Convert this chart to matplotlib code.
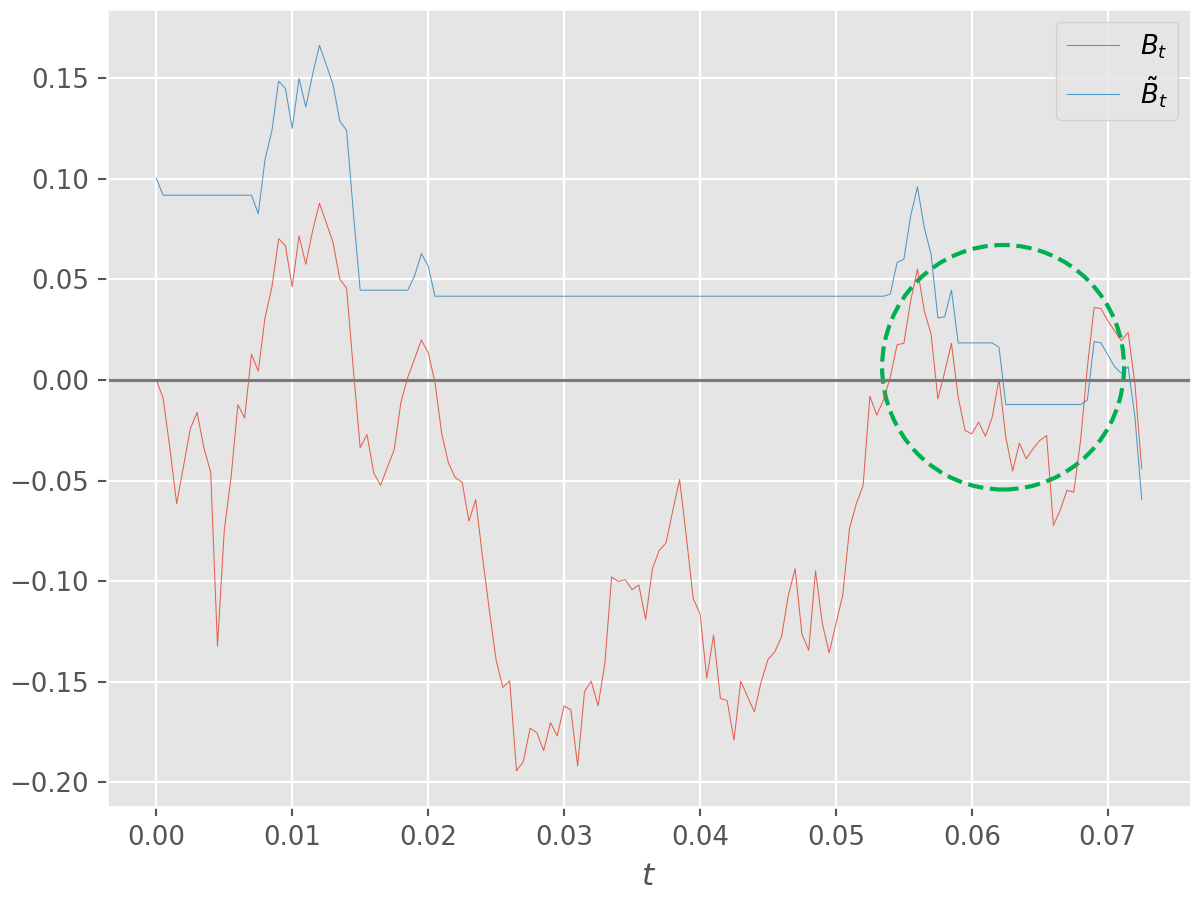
import numpy as np
import matplotlib
matplotlib.use('Agg')
import matplotlib.pyplot as plt
from matplotlib.patches import Ellipse

plt.style.use('ggplot')

# sample times: regular grid 0 .. 0.0725
t_end = 0.0725
n_pts = 146

# B_t (red)
b = [0.0, -0.0089, -0.034, -0.0615, -0.043, -0.0243, -0.0161, -0.0337, -0.0458, -0.1323,
     -0.0748, -0.0483, -0.0123, -0.0189, 0.0129, 0.0043, 0.031, 0.0459, 0.0702, 0.0666,
     0.0463, 0.0716, 0.0575, 0.0741, 0.0878, 0.0782, 0.0683, 0.0501, 0.0456, 0.005,
     -0.0337, -0.0271, -0.0463, -0.0524, -0.0434, -0.0347, -0.011, 0.0013, 0.0104, 0.0198,
     0.0137, -0.0012, -0.0268, -0.0414, -0.0486, -0.0508, -0.0701, -0.0595, -0.088, -0.1143,
     -0.1392, -0.1528, -0.1495, -0.1942, -0.1897, -0.1731, -0.1753, -0.1842, -0.1703, -0.1769,
     -0.162, -0.164, -0.1918, -0.155, -0.1497, -0.1619, -0.1409, -0.0979, -0.1002, -0.0992,
     -0.1042, -0.1019, -0.119, -0.0938, -0.0847, -0.081, -0.0649, -0.0495, -0.0781, -0.1086,
     -0.1161, -0.1483, -0.1268, -0.1582, -0.1594, -0.1789, -0.1497, -0.1574, -0.1649, -0.15,
     -0.1389, -0.1351, -0.1277, -0.107, -0.0938, -0.1263, -0.1343, -0.0949, -0.121, -0.1356,
     -0.1214, -0.107, -0.0739, -0.0615, -0.0525, -0.008, -0.0175, -0.01, 0.0013, 0.0175,
     0.0182, 0.0393, 0.0551, 0.0344, 0.0228, -0.0094, 0.0038, 0.0182, -0.0086, -0.0251,
     -0.0268, -0.021, -0.028, -0.0185, 0.0005, -0.0285, -0.0453, -0.0314, -0.0392, -0.0342,
     -0.0301, -0.0276, -0.0723, -0.0648, -0.0549, -0.0557, -0.0301, 0.0063, 0.036, 0.0355,
     0.0294, 0.0245, 0.0195, 0.0236, -0.002, -0.0441]

# tilde B_t (blue) (flat stretches written as repeats)
b_tilde = ([0.1002] + [0.0918] * 14 +
           [0.0826, 0.1096, 0.1237, 0.1485, 0.1448, 0.125, 0.1498, 0.1356, 0.1518, 0.1663,
            0.1567, 0.1468, 0.1286, 0.124, 0.083] +
           [0.0446] * 8 +
           [0.0517, 0.0628, 0.0567] +
           [0.0416] * 67 +
           [0.0427, 0.0583, 0.06, 0.0815, 0.0959, 0.0757, 0.0625, 0.0308, 0.0314, 0.0446] +
           [0.0184] * 6 +
           [0.0162] +
           [-0.0122] * 12 +
           [-0.01, 0.0191, 0.0184, 0.0125, 0.0066, 0.0033, 0.0066, -0.0185, -0.0595])

# highlighted region (ellipse in data units)
circle_center = (0.0623, 0.0063)
circle_w = 0.0178
circle_h = 0.1215

t = np.linspace(0, t_end, n_pts)

fig, ax = plt.subplots(figsize=(6.4, 4.8), dpi=187.5)
ax.plot(t, b, color='#E24A33', lw=0.4, alpha=0.85, label=r'$B_t$')
ax.plot(t, b_tilde, color='#348ABD', lw=0.4, alpha=0.85, label=r'$\tilde{B}_t$')
ax.axhline(0, color='#7a7a7a', lw=1.2)

ell = Ellipse(circle_center, circle_w, circle_h, fill=False,
              edgecolor='#00B050', lw=1.6, linestyle='--')
ax.add_patch(ell)

ax.set_xlabel(r'$t$')
ax.legend(loc='upper right')

fig.subplots_adjust(left=0.0892, right=0.9925, top=0.99, bottom=0.1033)
fig.savefig('out.png', dpi=187.5)
